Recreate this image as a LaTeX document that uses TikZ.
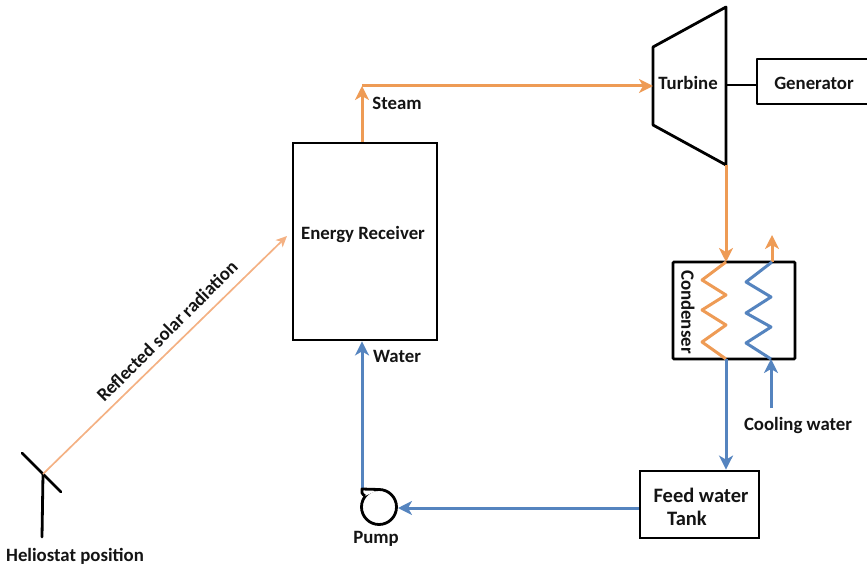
\documentclass[tikz,border=0pt]{standalone}
\usepackage{fontspec}
\setmainfont{Carlito}
\usetikzlibrary{arrows.meta,calc}
\definecolor{steamor}{HTML}{EE9B55}
\definecolor{waterbl}{HTML}{5584BF}
\definecolor{rayor}{HTML}{F4B183}
\definecolor{inkk}{HTML}{141414}
\tikzset{
  boxx/.style={draw=black,line width=2.8pt,inner sep=0pt,minimum width=#1},
  lbl/.style={font=\fontsize{18.8}{20}\selectfont\bfseries,text=inkk,inner sep=0pt,align=center},
  lblwide/.style={font=\fontsize{20.5}{22}\selectfont\bfseries,text=inkk,inner sep=0pt,align=center},
  steamline/.style={draw=steamor,line width=3pt,-{Stealth[length=14pt,width=14pt,inset=4pt]}},
  waterline/.style={draw=waterbl,line width=3pt,-{Stealth[length=14pt,width=14pt,inset=4pt]}},
  coilo/.style={draw=steamor,line width=3pt,line join=round},
  coilb/.style={draw=waterbl,line width=3pt,line join=round},
  blk/.style={draw=black,line width=2.8pt,line join=round,line cap=round}
}
\begin{document}
\begin{tikzpicture}[x=1pt,y=-1pt]
\useasboundingbox (0,0) rectangle (867,567);
% boxes
\node[boxx=144pt,minimum height=197pt] (recv) at (365,241.5) {};
\node[boxx=122pt,minimum height=97pt,rounded corners=1pt] (cond) at (734,310.5) {};
\node[boxx=119pt,minimum height=67pt] (tank) at (699.5,504.5) {};
% turbine
\coordinate (tTL) at (653,47); \coordinate (tTR) at (726,7);
\coordinate (tBR) at (726,165); \coordinate (tBL) at (653,125);
\coordinate (tIn) at (653,86); \coordinate (tOut) at (726,85); \coordinate (tDown) at (726,165);
\draw[blk] (tTL) -- (tTR) -- (tBR) -- (tBL) -- cycle;
% generator (runs off the right edge)
\coordinate (gT) at (867,59); \coordinate (gB) at (867,104);
\coordinate (gTL) at (757,59); \coordinate (gBL) at (757,104); \coordinate (gIn) at (757,85);
\draw[draw=black,line width=2.8pt,line join=round] (gT) -- (gTL) -- (gBL) -- (gB);
\draw[draw=black,line width=2.8pt] (tOut) -- (gIn);
% water line into the pump tag is drawn first
\coordinate (pTag) at (362,489);
\coordinate (pIn) at (398,508);
\draw[waterline] (pTag) -- (recv.south -| pTag);
% pump
\node[draw=black,line width=2.8pt,circle,minimum size=35pt,inner sep=0pt] (pump) at (379,507) {};
\draw[draw=black,line width=2.8pt,line join=round,fill=white] (379,489.5) -- (pTag) .. controls (361,492) and (362,494) .. (365,496);
% heliostat
\coordinate (mA) at (22,453); \coordinate (mB) at (61,492); \coordinate (mC) at (43,474);
\coordinate (post) at (42,537);
\draw[blk] (mA) -- (mB);
\draw[blk] (mC) -- (post);
% ray
\coordinate (rayEnd) at (287,236);
\draw[draw=rayor,line width=1.7pt,-{Stealth[length=11pt,width=10pt,inset=3pt]}] (mC) -- (rayEnd);
% steam
\coordinate (sCorner) at (362,86);
\draw[steamline] (recv.north -| sCorner) -- (sCorner);
\draw[steamline] (sCorner) -- (tIn);
\coordinate (cIn) at (726,262); \coordinate (cOutO) at (772,262);
\coordinate (cOutTop) at (772,235);
\coordinate (cBotO) at (726,359); \coordinate (cBotB) at (771,359);
\coordinate (cool) at (771,408);
\draw[steamline] (tDown) -- (cIn);
\draw[steamline] (cOutO) -- (cOutTop);
% coils
\draw[coilo] (cIn) -- (702,280) -- (726,295) -- (702,310) -- (726,325) -- (702,342) -- (cBotO);
\draw[coilb] (cOutO) -- (746,282) -- (771,297) -- (746,313) -- (771,327) -- (746,343) -- (cBotB);
% water
\draw[waterline] (cBotO) -- (tank.north -| cBotO);
\draw[waterline] (cool) -- (cBotB);
\draw[waterline] (tank.west |- pIn) -- (pIn);
% labels
\node[lbl] (lrecv) at (363,234) {Energy Receiver};
\node[lbl] (lturb) at (688,83) {Turbine};
\node[lbl] (lgen) at (814,83) {Generator};
\node[lbl] (lsteam) at (397,103) {Steam};
\node[lbl] (lwater) at (397,356) {Water};
\node[lbl] (lcool) at (798,425) {Cooling water};
\node[lbl] (lpump) at (376,539) {Pump};
\node[lbl] (lhel) at (75,556) {Heliostat position};
\node[lblwide] (lfeed) at (701,495) {Feed water};
\node[lblwide] (ltank) at (687,518) {Tank};
\node[lbl,rotate=-90] (lcond) at (688,312) {Condenser};
\node[lbl,rotate=45] (lray) at (167,331) {Reflected solar radiation};
\end{tikzpicture}
\end{document}
